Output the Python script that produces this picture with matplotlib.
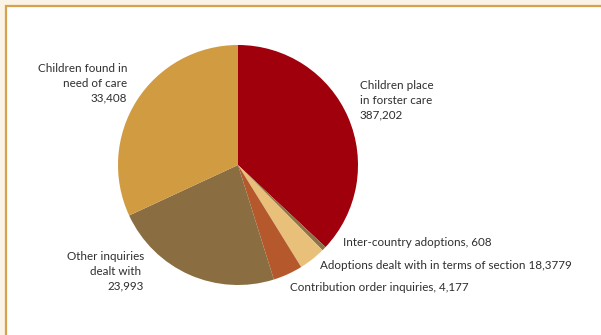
import matplotlib.pyplot as plt
from matplotlib.patches import Rectangle

categories = [
    "Children place in forster care",
    "Inter-country adoptions",
    "Adoptions dealt with in terms of section 18",
    "Contribution order inquiries",
    "Other inquiries dealt with",
    "Children found in need of care",
]
values = [38720.2, 608, 3779, 4177, 23993, 33408]
labelTexts = [
    "Children place\nin forster care\n387,202",
    "Inter-country adoptions, 608",
    "Adoptions dealt with in terms of section 18,3779",
    "Contribution order inquiries, 4,177",
    "Other inquiries\ndealt with \n23,993",
    "Children found in\nneed of care\n33,408",
]
colors = ["#a0000b", "#8c7448", "#e8c07a", "#b5592d", "#8a6d40", "#d19b42"]

# where each label sits (figure pixels, top-left origin) and how it is aligned
labelPos = [
    (360, 80, "left"),
    (343, 237, "left"),
    (320, 260, "left"),
    (290, 282, "left"),
    (144, 251, "right"),
    (127, 63, "right"),
]

W, H = 601, 335


def main():
    plt.rcParams['font.family'] = ['Lato', 'DejaVu Sans']
    fig = plt.figure(figsize=(W / 100, H / 100), dpi=100)
    fig.patch.set_facecolor("#fbf3e6")

    # white panel with a gold rule along the top and left
    panel = Rectangle((6 / W, -0.1), 1.2, (H - 6) / H + 0.1, transform=fig.transFigure,
                      facecolor="white", edgecolor="#d6a24e", linewidth=1.6, zorder=-5)
    fig.patches.append(panel)

    cx, cy, r = 238, 165, 120
    ax = fig.add_axes([(cx - r) / W, 1 - (cy + r) / H, 2 * r / W, 2 * r / H])
    ax.pie(values, colors=colors, startangle=90, counterclock=False, radius=1,
           wedgeprops=dict(linewidth=0))
    ax.set_xlim(-1, 1)
    ax.set_ylim(-1, 1)
    ax.set_aspect("auto")
    ax.axis("off")

    for text, (x, y, ha) in zip(labelTexts, labelPos):
        fig.text(x / W, 1 - y / H, text, ha=ha, va="top", fontsize=8.4,
                 color="#2e2e2e", linespacing=1.42, multialignment=ha)

    fig.savefig("out.png", dpi=100, facecolor=fig.get_facecolor())


if __name__ == "__main__":
    main()
